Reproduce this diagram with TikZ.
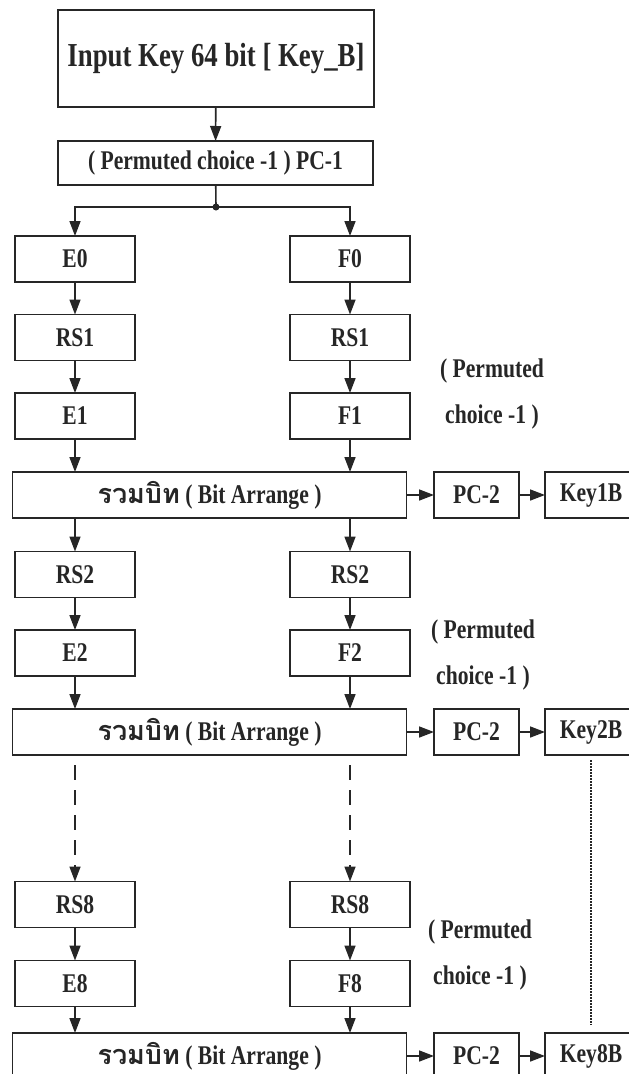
\documentclass[tikz,border=0pt]{standalone}
\usepackage{fontspec}
\setmainfont{Liberation Serif}[FakeStretch=0.8]
\newfontfamily\thaifont{Loma}[Script=Thai]
\usepackage{tikz}
\usetikzlibrary{arrows.meta}

\newcommand{\bitarr}{{\thaifont รวมบิท} ( Bit Arrange )}

\tikzset{
  blk/.style={draw=black!85, line width=1.8pt, inner sep=0pt, outer sep=0pt,
    minimum height=46pt, font=\fontsize{27}{30}\selectfont\bfseries, text=black!85},
  colbox/.style={blk, minimum width=120pt},
  wide/.style={blk, minimum width=394pt},
  pcbox/.style={blk, minimum width=85pt},
  keybox/.style={blk, minimum width=92pt},
  flow/.style={-{Triangle[length=15pt,width=11pt]}, line width=1.6pt, draw=black!85},
  note/.style={align=center, font=\fontsize{27}{46}\selectfont\bfseries, text=black!85}
}

\begin{document}
\begin{tikzpicture}[x=1pt, y=-1pt]

  \clip (0,0) rectangle (629,1074);
  \fill[white] (0,0) rectangle (629,1074);

  % Input and first permutation
  \node[blk, minimum width=316pt, minimum height=97pt, font=\fontsize{33.5}{38}\selectfont\bfseries]
    (in0) at (216,58.5) {Input Key 64 bit [ Key\_B]};
  \node[blk, minimum width=315pt, minimum height=44pt, font=\fontsize{27}{30}\selectfont\bfseries]
    (pc1) at (215.5,163) {( Permuted choice -1 ) PC-1};
  \coordinate (split) at (216,207);

  % Round 1
  \node[colbox] (e0)   at (75,259)    {E0};
  \node[colbox] (f0)   at (350,259)   {F0};
  \node[colbox] (rs1e) at (75,337.5)  {RS1};
  \node[colbox] (rs1f) at (350,337.5) {RS1};
  \node[colbox] (e1)   at (75,416)    {E1};
  \node[colbox] (f1)   at (350,416)   {F1};
  \node[wide]   (ba1)  at (209.5,495) {\bitarr};
  \node[pcbox]  (pc2a) at (476.5,495) {PC-2};
  \node[keybox] (key1) at (591,495)   {Key1B};
  \node[note]   (n1)   at (492,394.5) {( Permuted\\choice -1 )};

  % Round 2
  \node[colbox] (rs2e) at (75,574.5)  {RS2};
  \node[colbox] (rs2f) at (350,574.5) {RS2};
  \node[colbox] (e2)   at (75,653)    {E2};
  \node[colbox] (f2)   at (350,653)   {F2};
  \node[wide]   (ba2)  at (209.5,732) {\bitarr};
  \node[pcbox]  (pc2b) at (476.5,732) {PC-2};
  \node[keybox] (key2) at (591,732)   {Key2B};
  \node[note]   (n2)   at (483,655)   {( Permuted\\choice -1 )};

  % Round 8
  \node[colbox] (rs8e) at (75,904.5)  {RS8};
  \node[colbox] (rs8f) at (350,904.5) {RS8};
  \node[colbox] (e8)   at (75,983.5)  {E8};
  \node[colbox] (f8)   at (350,983.5) {F8};
  \node[wide]   (ba3)  at (209.5,1056) {\bitarr};
  \node[pcbox]  (pc2c) at (476.5,1056) {PC-2};
  \node[keybox] (key8) at (591,1056)   {Key8B};
  \node[note]   (n8)   at (480,955)    {( Permuted\\choice -1 )};

  % Connectors
  \draw[flow] (in0) -- (pc1);
  \draw[line width=1.6pt, draw=black!85] (pc1) -- (split);
  \fill[black!85] (split) circle (3.5pt);
  \draw[flow] (split) -| (e0);
  \draw[flow] (split) -| (f0);

  \foreach \a/\b in {e0/rs1e, rs1e/e1, f0/rs1f, rs1f/f1,
                     rs2e/e2, rs2f/f2, rs8e/e8, rs8f/f8} {
    \draw[flow] (\a) -- (\b);
  }
  \foreach \a/\b in {e1/ba1, f1/ba1, e2/ba2, f2/ba2, e8/ba3, f8/ba3} {
    \draw[flow] (\a) -- (\a |- \b.north);
  }
  \draw[flow] (e1 |- ba1.south) -- (rs2e);
  \draw[flow] (f1 |- ba1.south) -- (rs2f);

  % Skipped rounds
  \draw[flow, dash pattern=on 15pt off 10pt, dash phase=-10pt] (e2 |- ba2.south) -- (rs8e);
  \draw[flow, dash pattern=on 15pt off 10pt, dash phase=-10pt] (f2 |- ba2.south) -- (rs8f);
  \draw[line width=1.6pt, draw=black!85, dash pattern=on 1.5pt off 1.5pt,
        shorten <=5pt, shorten >=8pt] (key2) -- (key8);

  % Sub-key outputs
  \foreach \a/\b/\c in {ba1/pc2a/key1, ba2/pc2b/key2, ba3/pc2c/key8} {
    \draw[flow] (\a) -- (\b);
    \draw[flow] (\b) -- (\c);
  }

\end{tikzpicture}
\end{document}
